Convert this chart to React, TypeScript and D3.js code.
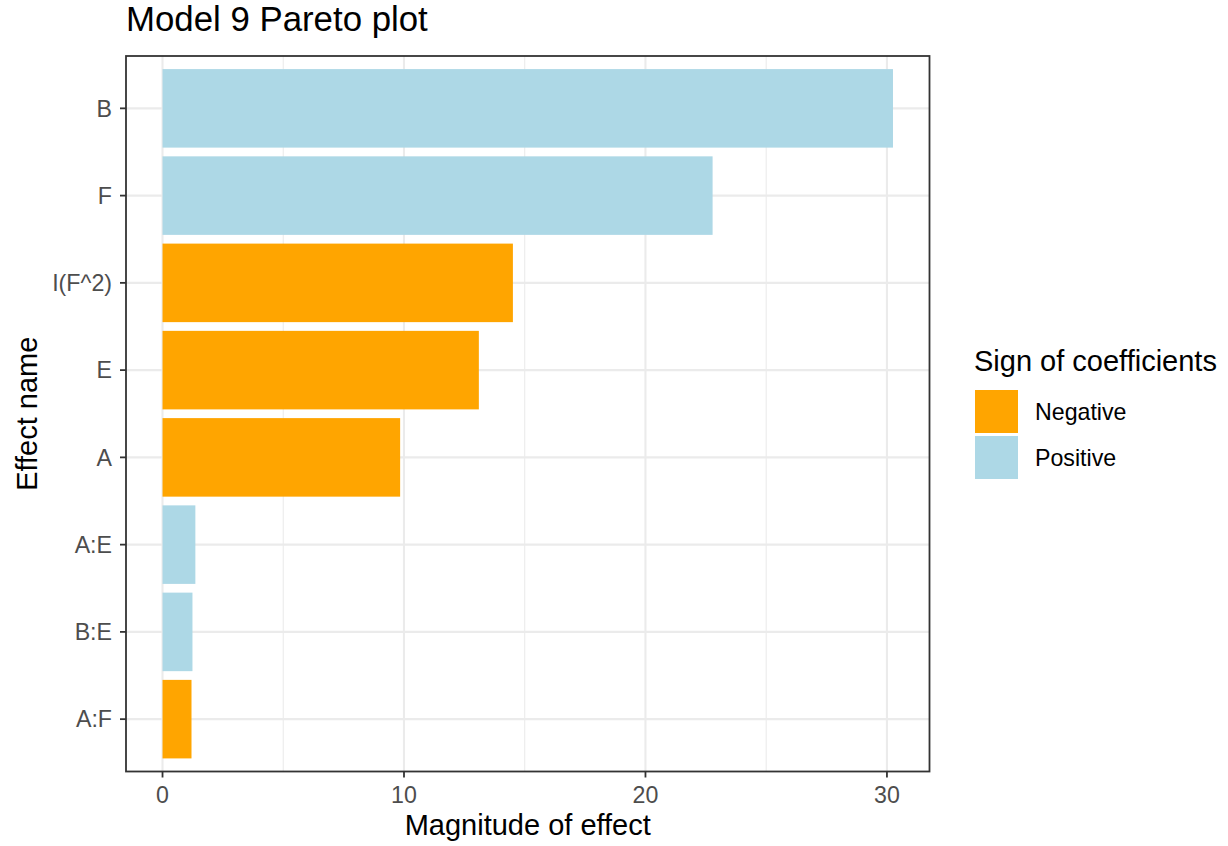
import React from "react";
import * as d3 from "d3";

// Effects ordered from largest to smallest magnitude
const effects = ["B", "F", "I(F^2)", "E", "A", "A:E", "B:E", "A:F"];
const magnitudes = [30.25, 22.78, 14.51, 13.1, 9.84, 1.36, 1.24, 1.2];
const signs = ["Positive", "Positive", "Negative", "Negative", "Negative", "Positive", "Positive", "Negative"];

const signLevels = ["Negative", "Positive"];
const signColors = ["#FFA500", "#ADD8E6"];
const xTicks = [0, 10, 20, 30];
const xMinorTicks = [5, 15, 25];

const W = 1228;
const H = 846;
const panel = { left: 126, right: 929.5, top: 56, bottom: 771.5 };
const FONT = "'Liberation Sans', Arial, Helvetica, sans-serif";

export default function App() {
  const maxVal = d3.max(magnitudes) as number;
  const x = d3
    .scaleLinear()
    .domain([-0.05 * maxVal, maxVal * 1.05])
    .range([panel.left, panel.right]);
  const y = d3
    .scaleBand<string>()
    .domain(effects)
    .range([panel.top, panel.bottom])
    .paddingInner(0.1)
    .paddingOuter(0.15);
  const color = d3.scaleOrdinal<string, string>().domain(signLevels).range(signColors);

  const step = y.step();
  const cx = (panel.left + panel.right) / 2;
  const cy = (panel.top + panel.bottom) / 2;

  return (
    <svg
      width={W}
      height={H}
      style={{ position: "absolute", left: 0, top: 0, background: "#fff" }}
      fontFamily={FONT}
    >
      <rect width={W} height={H} fill="#fff" />
      {/* title */}
      <text x={panel.left} y={31} fontSize={34.8} fill="#000">
        Model 9 Pareto plot
      </text>

      {/* grid */}
      <g>
        {xMinorTicks.map((t) => (
          <line key={"mx" + t} x1={x(t)} x2={x(t)} y1={panel.top} y2={panel.bottom} stroke="#EBEBEB" strokeWidth={1.1} />
        ))}
        {xTicks.map((t) => (
          <line key={"x" + t} x1={x(t)} x2={x(t)} y1={panel.top} y2={panel.bottom} stroke="#EBEBEB" strokeWidth={2.1} />
        ))}
        {effects.map((e) => {
          const yc = (y(e) as number) + y.bandwidth() / 2;
          return <line key={"y" + e} x1={panel.left} x2={panel.right} y1={yc} y2={yc} stroke="#EBEBEB" strokeWidth={2.1} />;
        })}
      </g>

      {/* bars */}
      <g>
        {effects.map((e, i) => (
          <rect
            key={e}
            x={x(0)}
            y={y(e) as number}
            width={x(magnitudes[i]) - x(0)}
            height={y.bandwidth()}
            fill={color(signs[i])}
          />
        ))}
      </g>

      {/* panel border */}
      <rect
        x={panel.left}
        y={panel.top}
        width={panel.right - panel.left}
        height={panel.bottom - panel.top}
        fill="none"
        stroke="#333333"
        strokeWidth={1.8}
      />

      {/* y axis */}
      <g>
        {effects.map((e) => {
          const yc = (y(e) as number) + y.bandwidth() / 2;
          return (
            <g key={"ya" + e}>
              <line x1={panel.left - 6} x2={panel.left} y1={yc} y2={yc} stroke="#333333" strokeWidth={1.8} />
              <text x={panel.left - 14} y={yc} dy="0.36em" textAnchor="end" fontSize={23.2} fill="#4D4D4D">
                {e}
              </text>
            </g>
          );
        })}
      </g>

      {/* x axis */}
      <g>
        {xTicks.map((t) => (
          <g key={"xa" + t}>
            <line x1={x(t)} x2={x(t)} y1={panel.bottom} y2={panel.bottom + 6} stroke="#333333" strokeWidth={1.8} />
            <text x={x(t)} y={803} textAnchor="middle" fontSize={23.2} fill="#4D4D4D">
              {t}
            </text>
          </g>
        ))}
      </g>

      {/* axis titles */}
      <text x={cx} y={835} textAnchor="middle" fontSize={29} fill="#000">
        Magnitude of effect
      </text>
      <text transform={`translate(37,${cy}) rotate(-90)`} textAnchor="middle" fontSize={29} fill="#000">
        Effect name
      </text>

      {/* legend */}
      <g>
        <text x={974} y={370.5} fontSize={29} fill="#000">
          Sign of coefficients
        </text>
        {signLevels.map((s, i) => {
          const top = 390 + i * 46;
          return (
            <g key={s}>
              <rect x={975} y={top} width={43} height={43} fill={color(s)} />
              <text x={1035} y={top + 21.5} dy="0.36em" fontSize={23.2} fill="#000">
                {s}
              </text>
            </g>
          );
        })}
      </g>
    </svg>
  );
}
